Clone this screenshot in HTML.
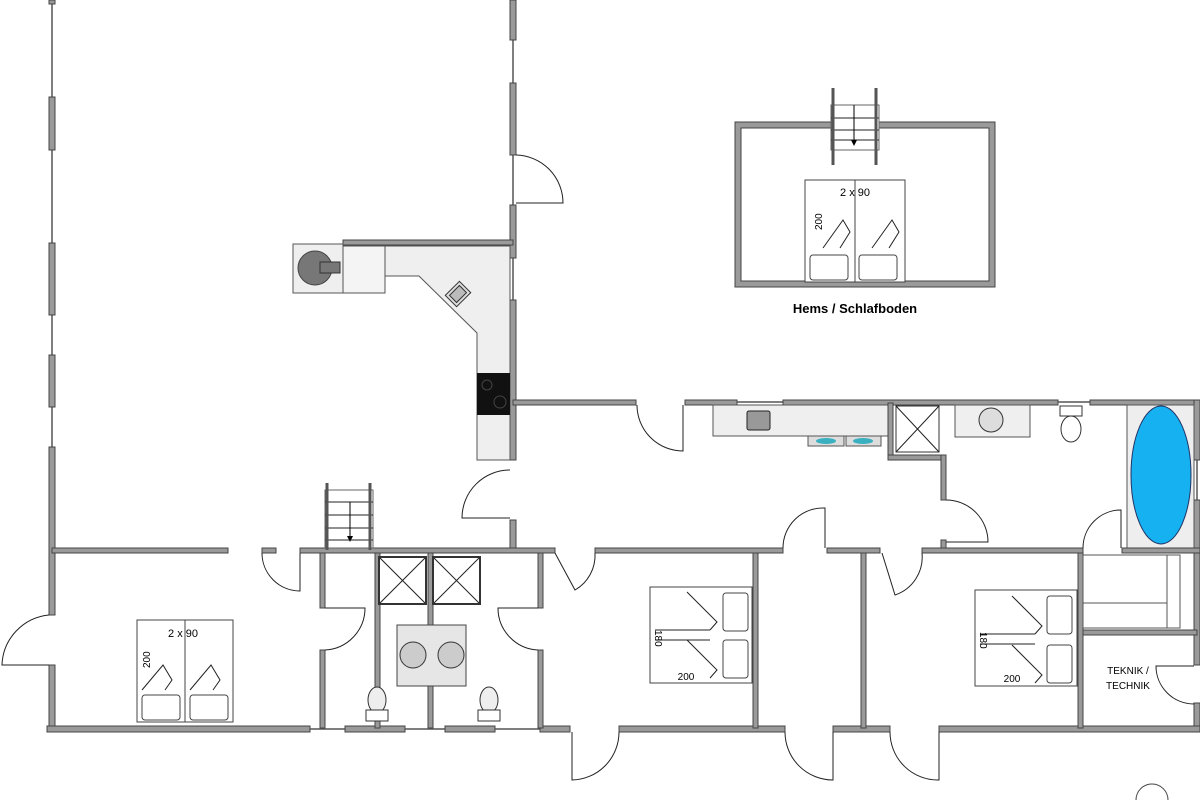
<!DOCTYPE html>
<html><head><meta charset="utf-8"><style>html,body{margin:0;padding:0;background:#fff}svg{display:block}</style></head>
<body>
<svg width="1200" height="800" viewBox="0 0 1200 800" xmlns="http://www.w3.org/2000/svg" font-family="Liberation Sans, sans-serif">
<defs>
<style>
.w{fill:#9a9a9a;stroke:#444;stroke-width:1}
.d{fill:none;stroke:#222;stroke-width:1}
.win{stroke:#555;stroke-width:1.5}
.f{fill:#efefef;stroke:#555;stroke-width:1}
.b{fill:#fff;stroke:#444;stroke-width:1}
</style>
</defs>
<line class="win" x1="52" y1="0" x2="52" y2="560"/>
<rect class="w" x="49" y="0" width="6" height="4"/>
<rect class="w" x="49" y="97" width="6" height="53"/>
<rect class="w" x="49" y="243" width="6" height="72"/>
<rect class="w" x="49" y="355" width="6" height="52"/>
<rect class="w" x="49" y="447" width="6" height="168"/>
<rect class="w" x="49" y="665" width="6" height="66"/>
<path class="d" d="M49 615 A52 52 0 0 0 2 665 L49 665"/>
<line class="win" x1="513" y1="0" x2="513" y2="300"/>
<rect class="w" x="510" y="0" width="6" height="40"/>
<rect class="w" x="510" y="83" width="6" height="72"/>
<rect class="w" x="510" y="205" width="6" height="53"/>
<rect class="w" x="510" y="300" width="6" height="160"/>
<rect class="w" x="510" y="520" width="6" height="32"/>
<path class="d" d="M516 155 A48 48 0 0 1 563 203 L516 203"/>
<path class="d" d="M510 470 A48 48 0 0 0 462 518 L510 518"/>
<rect class="w" x="343" y="240" width="170" height="5"/>
<rect class="f" x="293" y="244" width="50" height="49"/>
<circle cx="315" cy="268" r="17" fill="#777" stroke="#444"/>
<rect x="320" y="262" width="20" height="11" fill="#777" stroke="#333"/>
<path class="f" d="M343 246 L385 246 L385 293 L343 293 Z" style="fill:#f4f4f4"/>
<path class="f" d="M385 246 L510 246 L510 460 L477 460 L477 333 L419 276 L385 276 Z"/>
<g transform="translate(458,294) rotate(-45)"><rect x="-10" y="-8" width="20" height="16" fill="#ddd" stroke="#333"/><rect x="-7" y="-5" width="14" height="10" fill="#bbb" stroke="#333"/></g>
<rect x="477" y="373" width="33" height="42" fill="#111"/>
<circle cx="487" cy="385" r="5" fill="none" stroke="#444"/><circle cx="500" cy="402" r="6" fill="none" stroke="#444"/>
<rect class="w" x="513" y="400" width="123" height="5"/>
<rect class="w" x="685" y="400" width="52" height="5"/>
<line class="win" x1="737" y1="402" x2="783" y2="402"/>
<rect class="w" x="783" y="400" width="275" height="5"/>
<line class="win" x1="1058" y1="402" x2="1090" y2="402"/>
<rect class="w" x="1090" y="400" width="110" height="5"/>
<path class="d" d="M637 405 A46 46 0 0 0 683 451 L683 405"/>
<rect class="w" x="1194" y="400" width="6" height="60"/>
<line class="win" x1="1197" y1="460" x2="1197" y2="500"/>
<rect class="w" x="1194" y="500" width="6" height="165"/>
<rect class="w" x="1194" y="703" width="6" height="28"/>
<path class="d" d="M1194 666 H1156 A38 38 0 0 0 1194 704"/>
<rect class="f" x="713" y="405" width="175" height="31"/>
<rect x="747" y="411" width="23" height="19" fill="#999" stroke="#222" rx="2"/>
<rect x="808" y="436" width="36" height="10" fill="#ddd" stroke="#555"/><ellipse cx="826" cy="441" rx="10" ry="3" fill="#3ab0c0"/>
<rect x="846" y="436" width="35" height="10" fill="#ddd" stroke="#555"/><ellipse cx="863" cy="441" rx="10" ry="3" fill="#3ab0c0"/>
<rect class="w" x="888" y="403" width="5" height="57"/>
<rect class="w" x="888" y="455" width="57" height="5"/>
<rect class="w" x="941" y="455" width="5" height="45"/>
<rect class="w" x="941" y="540" width="5" height="10"/>
<rect x="896" y="406" width="43" height="46" fill="#fff" stroke="#333"/>
<path class="d" d="M896 406 L939 452 M939 406 L896 452"/>
<path class="d" d="M946 500 A42 42 0 0 1 988 542 L946 542"/>
<rect class="f" x="955" y="405" width="75" height="32"/>
<circle cx="991" cy="420" r="12" fill="#ddd" stroke="#333"/>
<rect x="1060" y="406" width="22" height="10" fill="#fff" stroke="#333"/>
<ellipse cx="1071" cy="429" rx="10" ry="13" fill="#fff" stroke="#333"/>
<rect x="1127" y="405" width="67" height="143" fill="#eee" stroke="#555"/>
<ellipse cx="1161" cy="475" rx="30" ry="69" fill="#16b1f0" stroke="#236"/>
<rect class="w" x="52" y="548" width="176" height="5"/>
<rect class="w" x="262" y="548" width="14" height="5"/>
<rect class="w" x="300" y="548" width="255" height="5"/>
<rect class="w" x="595" y="548" width="188" height="5"/>
<rect class="w" x="827" y="548" width="53" height="5"/>
<rect class="w" x="922" y="548" width="161" height="5"/>
<rect class="w" x="1122" y="548" width="78" height="5"/>
<path class="d" d="M262 553 A38 38 0 0 0 300 591 L300 553"/>
<path class="d" d="M555 553 L575 590 A40 40 0 0 0 595 553"/>
<path class="d" d="M783 548 A40 40 0 0 1 825 508 L825 548"/>
<path class="d" d="M882 553 L895 595 A40 40 0 0 0 922 553"/>
<path class="d" d="M1083 548 A38 38 0 0 1 1121 510 L1121 548"/>
<rect x="325" y="490" width="48" height="58" fill="#fff" stroke="#666"/>
<path class="d" d="M325 502 H373 M325 515 H373 M325 528 H373 M325 540 H373"/>
<path d="M327 483 V550 M370 483 V550" stroke="#555" stroke-width="3" fill="none"/>
<line x1="350" y1="502" x2="350" y2="540" stroke="#000"/><path d="M347 536 L350 542 L353 536Z"/>
<rect class="w" x="47" y="726" width="263" height="6"/>
<line class="win" x1="310" y1="729" x2="345" y2="729"/>
<rect class="w" x="345" y="726" width="60" height="6"/>
<line class="win" x1="405" y1="729" x2="445" y2="729"/>
<rect class="w" x="445" y="726" width="50" height="6"/>
<line class="win" x1="495" y1="729" x2="540" y2="729"/>
<rect class="w" x="540" y="726" width="30" height="6"/>
<rect class="w" x="619" y="726" width="166" height="6"/>
<rect class="w" x="833" y="726" width="57" height="6"/>
<rect class="w" x="939" y="726" width="261" height="6"/>
<path class="d" d="M572 732 L572 780 A48 48 0 0 0 619 732"/>
<path class="d" d="M785 732 A48 48 0 0 0 833 780 L833 732"/>
<path class="d" d="M890 732 A48 48 0 0 0 939 780 L939 732"/>
<rect class="w" x="320" y="553" width="5" height="55"/>
<rect class="w" x="320" y="650" width="5" height="78"/>
<path class="d" d="M325 608 H365 A42 42 0 0 1 325 650"/>
<rect class="w" x="375" y="553" width="5" height="175"/>
<rect class="w" x="428" y="553" width="5" height="175"/>
<rect class="w" x="538" y="553" width="5" height="55"/>
<rect class="w" x="538" y="650" width="5" height="78"/>
<path class="d" d="M538 608 H498 A42 42 0 0 0 538 650"/>
<rect class="w" x="753" y="553" width="5" height="175"/>
<rect class="w" x="861" y="553" width="5" height="175"/>
<rect class="w" x="1078" y="553" width="5" height="175"/>
<rect class="w" x="1083" y="630" width="114" height="5"/>
<rect x="1083" y="555" width="84" height="73" fill="#fff" stroke="#555"/>
<rect x="1167" y="555" width="13" height="73" fill="#fff" stroke="#555"/>
<line x1="1083" y1="603" x2="1167" y2="603" stroke="#555"/>
<rect x="379" y="557" width="47" height="47" fill="#fff" stroke="#333" stroke-width="2"/>
<path class="d" d="M380 558 L425 603 M425 558 L380 603"/>
<rect x="433" y="557" width="47" height="47" fill="#fff" stroke="#333" stroke-width="2"/>
<path class="d" d="M434 558 L479 603 M479 558 L434 603"/>
<rect x="397" y="625" width="69" height="61" fill="#e6e6e6" stroke="#444"/>
<circle cx="413" cy="655" r="13" fill="#ccc" stroke="#333"/>
<circle cx="451" cy="655" r="13" fill="#ccc" stroke="#333"/>
<ellipse cx="377" cy="700" rx="9" ry="13" fill="#eee" stroke="#333"/><rect x="366" y="710" width="22" height="11" fill="#fff" stroke="#333"/>
<ellipse cx="489" cy="700" rx="9" ry="13" fill="#eee" stroke="#333"/><rect x="478" y="710" width="22" height="11" fill="#fff" stroke="#333"/>
<g>
<rect class="b" x="137" y="620" width="48" height="102"/><rect class="b" x="185" y="620" width="48" height="102"/>
<rect class="b" x="142" y="695" width="38" height="25" rx="3"/><rect class="b" x="190" y="695" width="38" height="25" rx="3"/>
<path class="d" d="M142 690 L163 665 L172 680 L165 690 M190 690 L211 665 L220 680 L213 690"/>
<text x="183" y="637" font-size="11" text-anchor="middle">2 x 90</text>
<text x="0" y="0" font-size="10" transform="translate(150,668) rotate(-90)">200</text>
</g>
<g>
<rect class="b" x="650" y="587" width="102" height="96"/>
<rect class="b" x="723" y="593" width="25" height="38" rx="3"/><rect class="b" x="723" y="640" width="25" height="38" rx="3"/>
<path class="d" d="M687 592 L717 622 L710 630 M687 640 L717 670 L710 678 M655 630 H710 M655 640 H710"/>
<text x="686" y="680" font-size="10" text-anchor="middle">200</text>
<text font-size="10" transform="translate(655,630) rotate(90)">180</text>
</g>
<g>
<rect class="b" x="975" y="590" width="102" height="96"/>
<rect class="b" x="1047" y="596" width="25" height="38" rx="3"/><rect class="b" x="1047" y="645" width="25" height="38" rx="3"/>
<path class="d" d="M1012 596 L1042 626 L1035 634 M1012 645 L1042 675 L1035 683 M980 634 H1035 M980 644 H1035"/>
<text x="1012" y="682" font-size="10" text-anchor="middle">200</text>
<text font-size="10" transform="translate(980,632) rotate(90)">180</text>
</g>
<text x="1128" y="674" font-size="10" text-anchor="middle">TEKNIK /</text>
<text x="1128" y="689" font-size="10" text-anchor="middle">TECHNIK</text>
<path d="M735 122 H995 V287 H735 Z M741 128 V281 H989 V128 Z" fill="#9a9a9a" stroke="#444" stroke-width="1" fill-rule="evenodd"/>
<rect x="831" y="105" width="48" height="45" fill="#fff" stroke="#666"/>
<path class="d" d="M831 118 H879 M831 130 H879 M831 140 H879"/>
<path d="M833 88 V165 M876 88 V165" stroke="#555" stroke-width="3" fill="none"/>
<line x1="854" y1="105" x2="854" y2="143" stroke="#000"/><path d="M851 140 L854 146 L857 140Z"/>
<rect class="b" x="805" y="180" width="50" height="102"/><rect class="b" x="855" y="180" width="50" height="102"/>
<rect class="b" x="810" y="255" width="38" height="25" rx="3"/><rect class="b" x="859" y="255" width="38" height="25" rx="3"/>
<path class="d" d="M823 248 L843 220 L850 232 L840 248 M872 248 L892 220 L899 232 L889 248"/>
<text x="855" y="196" font-size="11" text-anchor="middle">2 x 90</text>
<text font-size="10" transform="translate(822,230) rotate(-90)">200</text>
<text x="855" y="313" font-size="13" font-weight="bold" text-anchor="middle">Hems / Schlafboden</text>
<circle cx="1152" cy="800" r="16" fill="none" stroke="#444"/>
</svg>
</body></html>
